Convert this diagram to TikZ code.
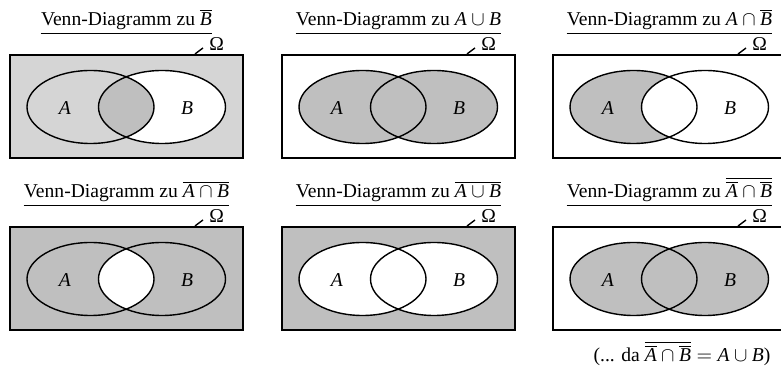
\documentclass[tikz,border=0pt]{standalone}
\usepackage{fontspec}
\setmainfont{Liberation Serif}
\usepackage{tikz}
\usetikzlibrary{
  calc,      % coordinate calculations
  positioning % relative placement
}
\newcommand\sA{\textit{A}}
\newcommand\sB{\textit{B}}
% common parts of one Venn panel: ellipses, labels, title, Omega
\newcommand\vennlines[2]{%
  \draw[venn line] (0,0) rectangle (\rw,\rh);
  \draw[venn line] (\ax,\cy) ellipse [x radius=\rx, y radius=\ry];
  \draw[venn line] (\bx,\cy) ellipse [x radius=\rx, y radius=\ry];
  \node[set label] (#1a) at (55,53) {\sA};
  \node[set label] (#1b) at (177,53) {\sB};
  \node[anchor=base, inner sep=0pt] (#1t) at (116.5,-29) {Venn-Diagramm zu #2};
  \draw[thin] ($(#1t.base west)+(0,7)$) -- ($(#1t.base east)+(0,7)$);
  \node[anchor=base west, inner sep=0pt] (#1o) at (199,-4) {Ω};
  \coordinate (#1p) at (185,-1);
  \draw[venn line] (#1p) -- ++(8,-6);
}
\begin{document}
\fontsize{9.8}{12}\selectfont
\begin{tikzpicture}[x=0.5pt, y=-0.5pt,
    venn line/.style={black, line width=0.7pt},
    set label/.style={font=\fontsize{9.8}{12}\selectfont},
    light/.style={fill=gray!33},
    dark/.style={fill=gray!50}]
    % grid of panels
    \def\rw{233}
    \def\rh{103}
    \def\ax{80.5}
    \def\bx{152}
    \def\cy{52}
    \def\rx{63.5}
    \def\ry{36.5}
    \useasboundingbox (0,0) rectangle (781,367);

    % --- Panel 1: complement of B ---
    \begin{scope}[shift={(10,55)}]
      \fill[light] (0,0) rectangle (\rw,\rh);
      \fill[white] (\bx,\cy) ellipse [x radius=\rx, y radius=\ry];
      \begin{scope}
        \clip (\ax,\cy) ellipse [x radius=\rx, y radius=\ry];
        \fill[dark] (\bx,\cy) ellipse [x radius=\rx, y radius=\ry];
      \end{scope}
      \vennlines{p1}{$\overline{\sB}$}
    \end{scope}

    % --- Panel 2: union ---
    \begin{scope}[shift={(282,55)}]
      \fill[dark] (\ax,\cy) ellipse [x radius=\rx, y radius=\ry];
      \fill[dark] (\bx,\cy) ellipse [x radius=\rx, y radius=\ry];
      \vennlines{p2}{$\sA\cup\sB$}
    \end{scope}

    % --- Panel 3: A without B ---
    \begin{scope}[shift={(553,55)}]
      \fill[dark] (\ax,\cy) ellipse [x radius=\rx, y radius=\ry];
      \fill[white] (\bx,\cy) ellipse [x radius=\rx, y radius=\ry];
      \vennlines{p3}{$\sA\cap\overline{\sB}$}
    \end{scope}

    % --- Panel 4: complement of the intersection ---
    \begin{scope}[shift={(10,227)}]
      \fill[dark] (0,0) rectangle (\rw,\rh);
      \begin{scope}
        \clip (\ax,\cy) ellipse [x radius=\rx, y radius=\ry];
        \fill[white] (\bx,\cy) ellipse [x radius=\rx, y radius=\ry];
      \end{scope}
      \vennlines{p4}{$\overline{\sA\cap\sB}$}
    \end{scope}

    % --- Panel 5: complement of the union ---
    \begin{scope}[shift={(282,227)}]
      \fill[dark] (0,0) rectangle (\rw,\rh);
      \fill[white] (\ax,\cy) ellipse [x radius=\rx, y radius=\ry];
      \fill[white] (\bx,\cy) ellipse [x radius=\rx, y radius=\ry];
      \vennlines{p5}{$\overline{\sA\cup\sB}$}
    \end{scope}

    % --- Panel 6: double complement ---
    \begin{scope}[shift={(553,227)}]
      \fill[dark] (\ax,\cy) ellipse [x radius=\rx, y radius=\ry];
      \fill[dark] (\bx,\cy) ellipse [x radius=\rx, y radius=\ry];
      \vennlines{p6}{$\overline{\overline{\sA}\cap\overline{\sB}}$}
      \node[anchor=base, inner sep=0pt] (p6n) at (129,135)
        {(... da $\overline{\overline{\sA}\cap\overline{\sB}} = \sA\cup\sB$)};
    \end{scope}
  \end{tikzpicture}
\end{document}
